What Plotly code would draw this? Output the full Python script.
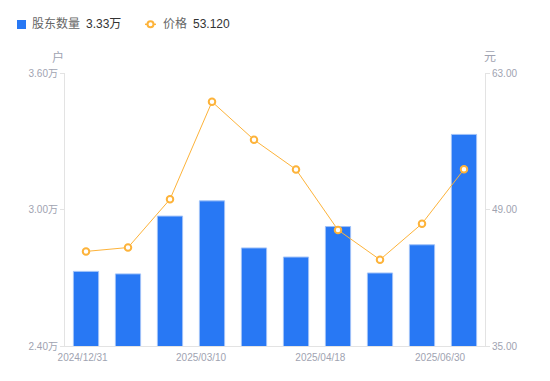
import plotly.graph_objects as go

# ---- data ----
dates = ["2024/12/31", "2025/01/20", "2025/02/28", "2025/03/10", "2025/03/20",
         "2025/03/31", "2025/04/18", "2025/04/30", "2025/05/30", "2025/06/30"]
holders_wan = [2.728, 2.717, 2.971, 3.038, 2.831, 2.791, 2.925, 2.721, 2.845, 3.33]
price = [44.7, 45.1, 50.05, 60.05, 56.15, 53.1, 46.9, 43.85, 47.55, 53.12]
left_ticks = [2.40, 3.00, 3.60]
left_tick_text = ["2.40万", "3.00万", "3.60万"]
right_ticks = [35, 49, 63]
x_tick_labels = ["2024/12/31", "2025/03/10", "2025/04/18", "2025/06/30"]
x_tick_pos = [-0.08, 2.74, 5.58, 8.43]

idx = list(range(len(dates)))

BLUE = "#2878F4"
ORANGE = "#FDB33A"
TICK = "#A0A3B1"
FONT = "Liberation Sans, Arial, Noto Sans CJK SC, sans-serif"

fig = go.Figure()
fig.add_trace(go.Bar(
    x=idx, y=holders_wan, width=0.6, name="股东数量",
    marker=dict(color=BLUE, line=dict(color="#A0C2F8", width=1)),
    customdata=dates, hovertemplate="%{customdata}<br>%{y:.2f}万<extra></extra>",
))
fig.add_trace(go.Scatter(
    x=idx, y=price, yaxis="y2", mode="lines+markers", name="价格",
    line=dict(color=ORANGE, width=1),
    marker=dict(symbol="circle", size=6.5, color="white", line=dict(color=ORANGE, width=2)),
    customdata=dates, hovertemplate="%{customdata}<br>%{y:.2f}<extra></extra>",
))

fig.update_layout(
    width=550, height=381,
    margin=dict(l=65, r=65, t=73, b=35),
    paper_bgcolor="white", plot_bgcolor="white",
    showlegend=False,
    font=dict(family=FONT, size=10, color=TICK),
    xaxis=dict(
        range=[-0.5, 9.5], tickmode="array", tickvals=x_tick_pos, ticktext=x_tick_labels,
        showgrid=False, zeroline=False, showline=True, linecolor="#E3E3E3", linewidth=1,
        ticks="", tickfont=dict(size=10, color=TICK), ticklabelstandoff=2,
    ),
    yaxis=dict(
        range=[2.4, 3.6], tickmode="array", tickvals=left_ticks, ticktext=left_tick_text,
        showgrid=False, zeroline=False, showline=True, linecolor="#E3E3E3", linewidth=1,
        ticks="outside", ticklen=4, tickcolor="#E3E3E3", tickfont=dict(size=10, color=TICK),
    ),
    yaxis2=dict(
        range=[35, 63], overlaying="y", side="right", tickmode="array", tickvals=right_ticks,
        tickformat=".2f",
        showgrid=False, zeroline=False, showline=True, linecolor="#E3E3E3", linewidth=1,
        ticks="outside", ticklen=4, tickcolor="#E3E3E3", tickfont=dict(size=10, color=TICK),
    ),
)

def px_x(p):
    return (p - 65) / 420

def px_y(p):
    return (346 - p) / 273

annotations = [
    dict(text="户", x=px_x(58), y=px_y(57), xanchor="center", yanchor="middle",
         font=dict(size=12, color=TICK)),
    dict(text="元", x=px_x(490), y=px_y(57), xanchor="center", yanchor="middle",
         font=dict(size=12, color=TICK)),
    dict(text="股东数量", x=px_x(30), y=px_y(24), xanchor="left", yanchor="middle",
         font=dict(size=12, color="#666666")),
    dict(text=f"{holders_wan[-1]:.2f}万", x=px_x(84), y=px_y(24), xanchor="left", yanchor="middle",
         font=dict(size=12, color="#333333")),
    dict(text="价格", x=px_x(161), y=px_y(24), xanchor="left", yanchor="middle",
         font=dict(size=12, color="#666666")),
    dict(text=f"{price[-1]:.3f}", x=px_x(191), y=px_y(24), xanchor="left", yanchor="middle",
         font=dict(size=12, color="#333333")),
]
for a in annotations:
    a.update(xref="paper", yref="paper", showarrow=False)
fig.update_layout(annotations=annotations)

shapes = [
    dict(type="rect", x0=px_x(17), x1=px_x(26), y0=px_y(20), y1=px_y(29),
         fillcolor=BLUE, line=dict(width=0)),
    dict(type="line", x0=px_x(145), x1=px_x(156), y0=px_y(24.3), y1=px_y(24.3),
         line=dict(color=ORANGE, width=1.5)),
    dict(type="circle", x0=px_x(147.5), x1=px_x(153.5), y0=px_y(21.3), y1=px_y(27.3),
         fillcolor="white", line=dict(color=ORANGE, width=2)),
]
for s in shapes:
    s.update(xref="paper", yref="paper")
fig.update_layout(shapes=shapes)

fig.write_html("out.html", config={"displayModeBar": False},
               post_script="document.body.style.margin='0';")
